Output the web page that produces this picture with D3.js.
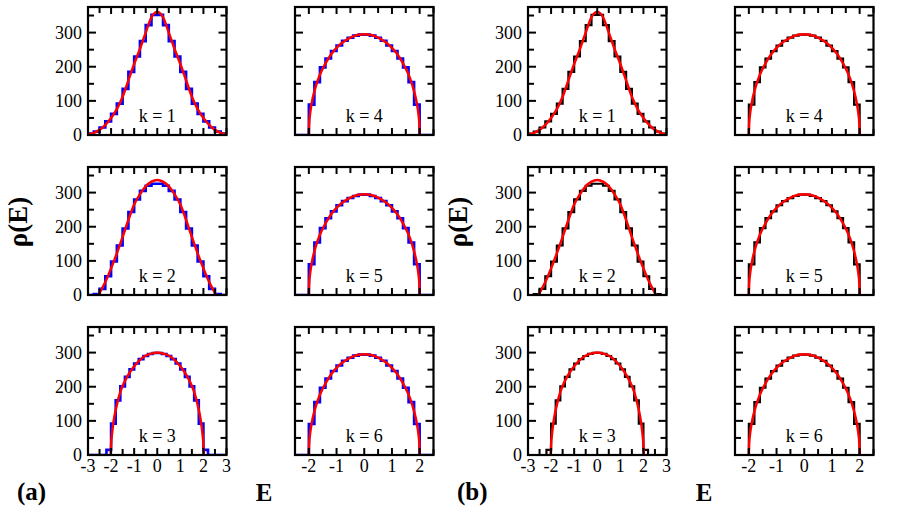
<!DOCTYPE html>
<html><head><meta charset="utf-8">
<script src="https://cdn.jsdelivr.net/npm/d3@7"></script>
<style>body{margin:0;background:#fff}svg{display:block}</style>
</head><body>
<script>
// ---------- data ----------
const leftTicksX = [-3, -2, -1, 0, 1, 2, 3];
const rightTicksX = [-2, -1, 0, 1, 2];
const yTicks = [0, 100, 200, 300];
const kLabels = ["k = 1", "k = 2", "k = 3", "k = 4", "k = 5", "k = 6"];
const groupLabels = ["(a)", "(b)"];
const xTitle = "E";
const yTitle = "\u03C1(E)";

// histograms: first bin edge, bin width, counts
const hist1Start = -3, hist1Width = 0.25;
const hist1 = [4, 10, 22, 40, 62, 92, 135, 185, 230, 275, 322, 352, 352, 322, 275, 230, 185, 135, 92, 62, 40, 22, 10, 4];
const hist2Start = -2.75, hist2Width = 0.25;
const hist2 = [3, 18, 55, 98, 145, 195, 243, 280, 305, 320, 326, 326, 320, 305, 280, 243, 195, 145, 98, 55, 18, 3];
const hist3Start = -2.2, hist3Width = 0.2;
const hist3 = [15, 92, 160, 201, 229, 251, 268, 281, 290, 296, 299, 299, 296, 290, 281, 268, 251, 229, 201, 160, 92, 15];
const hist4Start = -2.0, hist4Width = 0.2;
const hist4 = [89, 155, 198, 224, 246, 262, 276, 285, 291, 294, 294, 291, 285, 276, 262, 246, 224, 198, 155, 89];
const hist5Start = -2.0, hist5Width = 0.2;
const hist5 = [90, 154, 196, 225, 245, 263, 275, 284, 290, 294, 294, 290, 284, 275, 263, 245, 225, 196, 154, 90];
const hist6Start = -2.0, hist6Width = 0.2;
const hist6 = [91, 155, 197, 224, 246, 262, 276, 285, 291, 294, 294, 291, 285, 276, 262, 246, 224, 197, 155, 91];

// fitted curves (E, rho)
const curve1E = [-3, -2.75, -2.5, -2.25, -2, -1.75, -1.5, -1.25, -1, -0.75, -0.5, -0.25, 0, 0.25, 0.5, 0.75, 1, 1.25, 1.5, 1.75, 2, 2.25, 2.5, 2.75, 3];
const curve1R = [2, 6, 15, 30, 50, 76, 112, 160, 208, 252, 300, 345, 360, 345, 300, 252, 208, 160, 112, 76, 50, 30, 15, 6, 2];
const curve2E = [-2.55, -2.5, -2.25, -2, -1.75, -1.5, -1.25, -1, -0.75, -0.5, -0.25, 0, 0.25, 0.5, 0.75, 1, 1.25, 1.5, 1.75, 2, 2.25, 2.5, 2.55];
const curve2R = [0, 6, 38, 78, 122, 170, 220, 265, 295, 318, 332, 337, 332, 318, 295, 265, 220, 170, 122, 78, 38, 6, 0];
const curve3E = [-2.02, -2, -1.95, -1.9, -1.8, -1.6, -1.4, -1.2, -1, -0.8, -0.6, -0.4, -0.2, 0, 0.2, 0.4, 0.6, 0.8, 1, 1.2, 1.4, 1.6, 1.8, 1.9, 1.95, 2, 2.02];
const curve3R = [0, 30, 68, 95, 132, 185, 217, 241, 260, 275, 287, 294, 298, 300, 298, 294, 287, 275, 260, 241, 217, 185, 132, 95, 68, 30, 0];
const curveSE = [-2, -1.99, -1.95, -1.9, -1.8, -1.6, -1.4, -1.2, -1, -0.8, -0.6, -0.4, -0.2, 0, 0.2, 0.4, 0.6, 0.8, 1, 1.2, 1.4, 1.6, 1.8, 1.9, 1.95, 1.99, 2];
const curveSR = [0, 30, 66, 92, 128, 177, 210, 236, 255, 270, 281, 289, 294, 295, 294, 289, 281, 270, 255, 236, 210, 177, 128, 92, 66, 30, 0];

const panels = [
  {k: 0, start: hist1Start, width: hist1Width, counts: hist1, cE: curve1E, cR: curve1R},
  {k: 1, start: hist2Start, width: hist2Width, counts: hist2, cE: curve2E, cR: curve2R},
  {k: 2, start: hist3Start, width: hist3Width, counts: hist3, cE: curve3E, cR: curve3R},
  {k: 3, start: hist4Start, width: hist4Width, counts: hist4, cE: curveSE, cR: curveSR},
  {k: 4, start: hist5Start, width: hist5Width, counts: hist5, cE: curveSE, cR: curveSR},
  {k: 5, start: hist6Start, width: hist6Width, counts: hist6, cE: curveSE, cR: curveSR}
];

// ---------- layout ----------
const FONT = "'Liberation Serif'";
const W = 913, H = 520;
const colX = [88, 295, 528, 735];
const rowY = [7, 167, 327];
const pw = 138.5, ph = 128;
const svg = d3.select("body").append("svg").attr("width", W).attr("height", H);
const defs = svg.append("defs");

function txt(sel) {
  return sel.append("text").style("font-family", FONT).attr("fill", "#000");
}

function drawPanel(group, col, row, p, histColor, idx) {
  const x0 = colX[group * 2 + col], y0 = rowY[row];
  const left = col === 0;
  const xs = d3.scaleLinear().domain(left ? [-3, 3] : [-2.5, 2.5]).range([x0, x0 + pw]);
  const ys = d3.scaleLinear().domain([0, 375]).range([y0 + ph, y0]);
  const cid = "clip" + idx;
  defs.append("clipPath").attr("id", cid).append("rect")
    .attr("x", x0).attr("y", y0 - 2).attr("width", pw).attr("height", ph + 2);
  const g = svg.append("g");

  // histogram step
  const pts = [[xs.domain()[0], 0], [p.start, 0]];
  p.counts.forEach((c, i) => {
    const a = p.start + i * p.width, b = p.start + (i + 1) * p.width;
    pts.push([a, c], [b, c]);
  });
  pts.push([p.start + p.counts.length * p.width, 0], [xs.domain()[1], 0]);
  g.append("path").attr("clip-path", `url(#${cid})`)
    .attr("d", d3.line().x(d => xs(d[0])).y(d => ys(d[1]))(pts))
    .attr("fill", "none").attr("stroke", histColor).attr("stroke-width", group === 0 ? 2.6 : 2.2)
    .attr("stroke-linejoin", "miter");

  // fit curve
  const cpts = p.cE.map((e, i) => [e, p.cR[i]]);
  g.append("path").attr("clip-path", `url(#${cid})`)
    .attr("d", d3.line().x(d => xs(d[0])).y(d => ys(d[1])).curve(d3.curveMonotoneX)(cpts))
    .attr("fill", "none").attr("stroke", "#ff0000").attr("stroke-width", 2.5);

  // ticks (inward on all sides)
  const xt = d3.range(xs.domain()[0], xs.domain()[1] + 1e-9, 0.5);
  xt.forEach(v => {
    const L = Math.abs(v - Math.round(v)) < 1e-6 ? 7 : 6;
    const X = xs(v);
    g.append("line").attr("x1", X).attr("x2", X).attr("y1", y0 + ph).attr("y2", y0 + ph - L).attr("stroke", "#000").attr("stroke-width", 2);
    g.append("line").attr("x1", X).attr("x2", X).attr("y1", y0).attr("y2", y0 + L).attr("stroke", "#000").attr("stroke-width", 2);
  });
  d3.range(0, 376, 50).forEach(v => {
    const L = v % 100 === 0 ? 8 : 6;
    const Y = ys(v);
    g.append("line").attr("x1", x0).attr("x2", x0 + L).attr("y1", Y).attr("y2", Y).attr("stroke", "#000").attr("stroke-width", 2);
    g.append("line").attr("x1", x0 + pw).attr("x2", x0 + pw - L).attr("y1", Y).attr("y2", Y).attr("stroke", "#000").attr("stroke-width", 2);
  });

  // frame
  g.append("rect").attr("x", x0).attr("y", y0).attr("width", pw).attr("height", ph)
    .attr("fill", "none").attr("stroke", "#000").attr("stroke-width", 2.2);

  // k label
  txt(g).attr("x", xs(0)).attr("y", y0 + ph - 13).attr("text-anchor", "middle")
    .attr("font-size", 18).text(kLabels[p.k]);

  // y tick labels
  if (left) {
    yTicks.forEach(v => {
      txt(g).attr("x", x0 - 6).attr("y", ys(v)).attr("dy", "0.34em")
        .attr("text-anchor", "end").attr("font-size", 18).text(v);
    });
  }
  // x tick labels
  if (row === 2) {
    (left ? leftTicksX : rightTicksX).forEach(v => {
      txt(g).attr("x", xs(v)).attr("y", y0 + ph + 17)
        .attr("text-anchor", "middle").attr("font-size", 18).text(String(v));
    });
  }
}

let idx = 0;
[0, 1].forEach(group => {
  const histColor = group === 0 ? "#0000ff" : "#000000";
  panels.forEach((p, i) => {
    const col = i < 3 ? 0 : 1, row = i % 3;
    drawPanel(group, col, row, p, histColor, idx++);
  });
  const off = group * 440;
  txt(svg).attr("transform", `translate(${27 + off},222) rotate(-90)`)
    .attr("text-anchor", "middle").attr("font-size", 27).attr("font-weight", "bold").text(yTitle);
  txt(svg).attr("x", 17 + off).attr("y", 500)
    .attr("font-size", 25).attr("font-weight", "bold").text(groupLabels[group]);
  txt(svg).attr("x", 264 + off).attr("y", 501).attr("text-anchor", "middle")
    .attr("font-size", 25).attr("font-weight", "bold").text(xTitle);
});
</script>
</body></html>
